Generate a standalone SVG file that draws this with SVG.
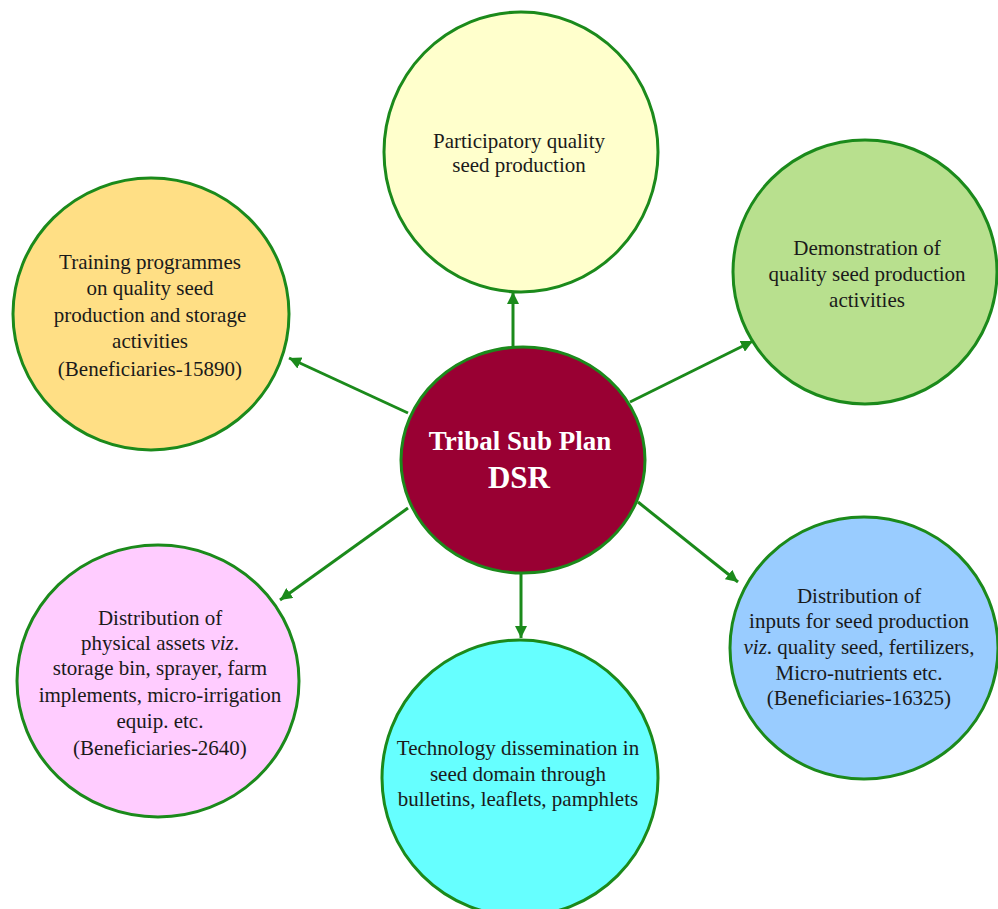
<svg xmlns="http://www.w3.org/2000/svg" width="998" height="909" viewBox="0 0 998 909">
<style>
.n{stroke:#1b8a1b;stroke-width:3}
.t{font-family:"Liberation Serif","Times New Roman",serif;font-size:21px;fill:#1a1a1a;text-anchor:middle}
.c{font-family:"Liberation Serif","Times New Roman",serif;font-weight:bold;fill:#ffffff;text-anchor:middle}
.e{stroke:#1b8a1b;stroke-width:3;fill:none;marker-end:url(#ah)}
</style>
<defs>
<marker id="ah" markerUnits="userSpaceOnUse" markerWidth="14" markerHeight="12" refX="12" refY="6" orient="auto">
<path d="M0,0 L12,6 L0,12 Z" fill="#1b8a1b"/>
</marker>
</defs>
<rect width="998" height="909" fill="#ffffff"/>
<g id="connectors">
<line class="e" x1="513" y1="349" x2="513" y2="292"/>
<line class="e" x1="630" y1="402" x2="753" y2="341"/>
<line class="e" x1="638" y1="502" x2="738" y2="582"/>
<line class="e" x1="521" y1="572" x2="521" y2="638"/>
<line class="e" x1="408" y1="508" x2="280" y2="600"/>
<line class="e" x1="408" y1="413" x2="289" y2="358"/>
</g>
<g id="node-top">
<ellipse class="n" cx="521" cy="152" rx="137" ry="140" fill="#ffffcc"/>
<text class="t" x="519" y="148">Participatory quality</text>
<text class="t" x="519" y="172">seed production</text>
</g>
<g id="node-training">
<ellipse class="n" cx="151" cy="314" rx="138" ry="136" fill="#ffdf85"/>
<text class="t" x="150" y="269">Training programmes</text>
<text class="t" x="150" y="295">on quality seed</text>
<text class="t" x="150" y="322">production and storage</text>
<text class="t" x="150" y="348">activities</text>
<text class="t" x="150" y="376">(Beneficiaries-15890)</text>
</g>
<g id="node-demo">
<ellipse class="n" cx="865" cy="272" rx="132" ry="132" fill="#b8e08e"/>
<text class="t" x="867" y="255">Demonstration of</text>
<text class="t" x="867" y="281">quality seed production</text>
<text class="t" x="867" y="307">activities</text>
</g>
<g id="node-assets">
<ellipse class="n" cx="158" cy="681" rx="141" ry="136" fill="#ffccff"/>
<text class="t" x="160" y="625">Distribution of</text>
<text class="t" x="160" y="650">physical assets <tspan font-style="italic">viz</tspan>.</text>
<text class="t" x="160" y="675">storage bin, sprayer, farm</text>
<text class="t" x="160" y="702">implements, micro-irrigation</text>
<text class="t" x="160" y="728">equip. etc.</text>
<text class="t" x="160" y="755">(Beneficiaries-2640)</text>
</g>
<g id="node-inputs">
<ellipse class="n" cx="864" cy="648" rx="134" ry="131" fill="#99ccff"/>
<text class="t" x="859" y="603">Distribution of</text>
<text class="t" x="859" y="628">inputs for seed production</text>
<text class="t" x="859" y="654"><tspan font-style="italic">viz</tspan>. quality seed, fertilizers,</text>
<text class="t" x="859" y="680">Micro-nutrients etc.</text>
<text class="t" x="859" y="705">(Beneficiaries-16325)</text>
</g>
<g id="node-tech">
<ellipse class="n" cx="520" cy="778" rx="138" ry="138" fill="#66ffff"/>
<text class="t" x="518" y="755">Technology dissemination in</text>
<text class="t" x="518" y="781">seed domain through</text>
<text class="t" x="518" y="806">bulletins, leaflets, pamphlets</text>
</g>
<g id="node-center">
<ellipse class="n" cx="523" cy="460" rx="122" ry="113" fill="#990033"/>
<text class="c" x="520" y="450" font-size="27">Tribal Sub Plan</text>
<text class="c" x="519" y="488" font-size="31">DSR</text>
</g>
</svg>
